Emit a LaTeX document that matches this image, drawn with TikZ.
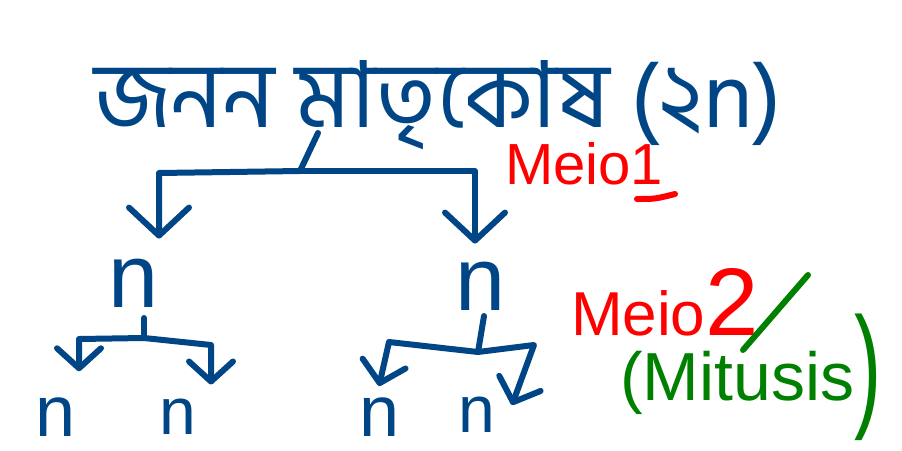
\documentclass[tikz,border=0pt]{standalone}
\usepackage{fontspec}
\usepackage{graphicx}
\setmainfont{Liberation Sans}
\newfontfamily\bnfont[Script=Bengali]{Hind Siliguri}
\usetikzlibrary{arrows.meta}
\definecolor{inkblue}{RGB}{0,69,134}
\definecolor{inkred}{RGB}{255,0,0}
\definecolor{inkgreen}{RGB}{0,128,0}
\begin{document}
\begin{tikzpicture}[x=1pt,y=-1pt,
  ink/.style={line width=6pt,line cap=round,line join=round},
  bl/.style={ink,draw=inkblue},
  bigarr/.style={-{Straight Barb[round,length=28pt,width=60pt]}},
  smallarr/.style={-{Straight Barb[round,length=20pt,width=44pt]}},
  lbl/.style={inner sep=0pt,outer sep=0pt},
  midn/.style={lbl,anchor=base,text=inkblue,font=\fontsize{90}{90}\selectfont},
  lown/.style={lbl,anchor=base,text=inkblue,font=\fontsize{66}{66}\selectfont},
  widen/.style={lbl,anchor=base,text=inkblue,font=\fontsize{72}{72}\selectfont}]
\useasboundingbox (0,0) rectangle (902,450);
% title
\node[lbl,anchor=base west,text=inkblue] (title) at (94,127)
  {\raisebox{0pt}[\height][0pt]{\resizebox{688pt}{!}{\bnfont জনন মাতৃকোষ (২n)}}};
% n nodes
\node[midn] (n1) at (134,307) {n};
\node[midn] (n2) at (481,310) {n};
\node[widen] (n3) at (56,436) {n};
\node[lown] (n4) at (178,434) {n};
\node[widen] (n5) at (380,436) {n};
\node[lown] (n6) at (477,432) {n};
% junctions
\coordinate (s1) at (318,133);
\coordinate (j1) at (300,171);
\coordinate (cL) at (159,173);
\coordinate (cR) at (475,171);
\coordinate (s2) at (144,318);
\coordinate (j2) at (144,338);
\coordinate (dL) at (79,339);
\coordinate (dR) at (211,345);
\coordinate (s3) at (484,316);
\coordinate (j3) at (478,352);
\coordinate (eL) at (389,342);
\coordinate (eR) at (534,345);
\coordinate (tL) at (379,386);
\coordinate (tR) at (512,405);
% first division
\draw[bl] (s1) -- (j1);
\draw[bl,bigarr,shorten >=20pt] (j1) -- (cL) -- (cL |- n1.north);
\draw[bl,bigarr,shorten >=18pt] (j1) -- (cR) -- (cR |- n2.north);
% second division, left
\draw[bl] (s2) -- (j2);
\draw[bl,smallarr,shorten >=26pt] (j2) -- (dL) -- (dL |- n3.north);
\draw[bl,smallarr,shorten >=14pt] (j2) -- (dR) -- (dR |- n4.north);
% second division, right
\draw[bl] (s3) -- (j3);
\draw[bl,smallarr] (j3) -- (eL) -- (tL);
\draw[bl,smallarr] (j3) -- (eR) -- (tR);
% labels
\node[lbl,anchor=base west,text=inkred,font=\fontsize{58}{58}\selectfont] (m1) at (505,184) {Meio1};
\draw[ink,draw=inkred] (637,199) .. controls (655,199) .. (675,194);
\node[lbl,anchor=base west,text=inkred,font=\fontsize{62}{62}\selectfont] (m2) at (571,335)
  {Meio{\fontsize{96}{96}\selectfont 2}};
\draw[ink,draw=inkgreen] (808,275) -- (743,350);
\node[lbl,anchor=base west,text=inkgreen,font=\fontsize{68}{68}\selectfont] (mit) at (620,400)
  {(Mitusis\raisebox{-12pt}{\scalebox{1.2}[2]{)}}};
\end{tikzpicture}
\end{document}
